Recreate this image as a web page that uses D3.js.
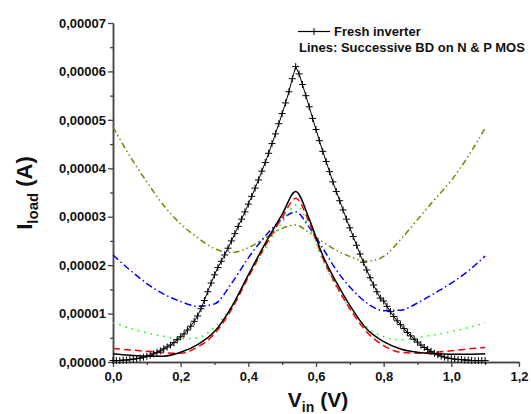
<!DOCTYPE html>
<html><head><meta charset="utf-8">
<script src="https://cdn.jsdelivr.net/npm/d3@7"></script>
<style>
html,body{margin:0;padding:0;background:#fff;}
svg{display:block;font-family:"Liberation Sans",Arial,Helvetica,sans-serif;}
</style></head>
<body><svg id="c" width="531" height="414"></svg>
<script>
// values in units of 1e-5 A
const xTicks = [0, 0.2, 0.4, 0.6, 0.8, 1.0, 1.2];
const xTickLabels = ["0,0", "0,2", "0,4", "0,6", "0,8", "1,0", "1,2"];
const yTicks = [0, 1, 2, 3, 4, 5, 6, 7];
const yTickLabels = ["0,00000", "0,00001", "0,00002", "0,00003", "0,00004", "0,00005", "0,00006", "0,00007"];

// Fresh inverter, Vin from 0.00 to 1.10 step 0.01
const freshVin = [0.00,0.01,0.02,0.03,0.04,0.05,0.06,0.07,0.08,0.09,0.10,0.11,0.12,0.13,0.14,0.15,0.16,0.17,0.18,0.19,
0.20,0.21,0.22,0.23,0.24,0.25,0.26,0.27,0.28,0.29,0.30,0.31,0.32,0.33,0.34,0.35,0.36,0.37,0.38,0.39,
0.40,0.41,0.42,0.43,0.44,0.45,0.46,0.47,0.48,0.49,0.50,0.51,0.52,0.53,0.54,0.55,0.56,0.57,0.58,0.59,
0.60,0.61,0.62,0.63,0.64,0.65,0.66,0.67,0.68,0.69,0.70,0.71,0.72,0.73,0.74,0.75,0.76,0.77,0.78,0.79,
0.80,0.81,0.82,0.83,0.84,0.85,0.86,0.87,0.88,0.89,0.90,0.91,0.92,0.93,0.94,0.95,0.96,0.97,0.98,0.99,
1.00,1.01,1.02,1.03,1.04,1.05,1.06,1.07,1.08,1.09,1.10];
const freshI = [0.03,0.03,0.03,0.04,0.04,0.05,0.06,0.07,0.08,0.10,0.12,0.14,0.17,0.20,0.23,0.27,0.31,0.35,0.40,0.46,
0.52,0.58,0.66,0.74,0.84,0.95,1.10,1.27,1.45,1.63,1.80,1.95,2.08,2.21,2.35,2.50,2.65,2.80,2.95,3.10,
3.26,3.42,3.59,3.76,3.94,4.12,4.31,4.51,4.71,4.92,5.13,5.35,5.58,5.85,6.10,5.95,5.73,5.50,5.27,5.03,
4.80,4.57,4.35,4.14,3.93,3.72,3.52,3.33,3.14,2.95,2.77,2.59,2.41,2.23,2.06,1.90,1.74,1.59,1.45,1.32,
1.26,1.15,1.04,0.94,0.85,0.77,0.69,0.61,0.54,0.47,0.41,0.35,0.30,0.26,0.22,0.18,0.15,0.12,0.10,0.08,
0.07,0.06,0.05,0.05,0.04,0.04,0.03,0.03,0.03,0.03,0.03];

// Successive breakdown curves
const bdVin = [0,0.05,0.10,0.15,0.20,0.25,0.30,0.35,0.40,0.45,0.50,0.54,0.58,0.62,0.66,0.70,0.75,0.80,0.85,0.90,0.95,1.00,1.05,1.10];
const bdBlack = [0.17,0.14,0.12,0.12,0.20,0.36,0.63,1.13,1.80,2.45,3.05,3.52,2.95,2.20,1.65,1.17,0.68,0.42,0.27,0.20,0.17,0.16,0.16,0.17];
const bdRed   = [0.28,0.25,0.22,0.19,0.18,0.31,0.58,1.08,1.75,2.40,2.98,3.38,2.88,2.15,1.58,1.10,0.62,0.34,0.20,0.18,0.20,0.23,0.27,0.30];
const bdGreen = [0.81,0.70,0.60,0.53,0.48,0.50,0.72,1.15,1.75,2.35,2.88,3.24,2.80,2.10,1.55,1.10,0.72,0.52,0.46,0.50,0.56,0.63,0.71,0.81];
const bdBlue  = [2.21,1.90,1.62,1.40,1.25,1.15,1.20,1.62,2.15,2.60,2.95,3.10,2.78,2.35,1.90,1.55,1.22,1.06,1.07,1.22,1.42,1.63,1.88,2.19];
const bdOlive = [4.85,4.25,3.72,3.23,2.85,2.57,2.34,2.26,2.36,2.56,2.76,2.83,2.67,2.48,2.31,2.18,2.08,2.18,2.53,2.94,3.35,3.75,4.25,4.83];

const legendFresh = "Fresh inverter";
const legendLines = "Lines: Successive BD on N & P MOS";

const svg = d3.select("#c");
const x = d3.scaleLinear().domain([0, 1.2]).range([113, 519]);
const y = d3.scaleLinear().domain([0, 7]).range([362, 23]);

// axes
const axisColor = "#444";
const gx = svg.append("g").attr("transform", "translate(0,362)")
  .call(d3.axisBottom(x).tickValues(xTicks).tickSize(5).tickSizeOuter(0)
    .tickFormat((d, i) => xTickLabels[i]));
const gxm = svg.append("g").attr("transform", "translate(0,362)")
  .call(d3.axisBottom(x).tickValues([0.1,0.3,0.5,0.7,0.9,1.1]).tickSize(3).tickSizeOuter(0).tickFormat(""));
const gy = svg.append("g").attr("transform", "translate(113,0)")
  .call(d3.axisLeft(y).tickValues(yTicks).tickSize(5).tickSizeOuter(0)
    .tickFormat((d, i) => yTickLabels[i]));
const gym = svg.append("g").attr("transform", "translate(113,0)")
  .call(d3.axisLeft(y).tickValues([0.5,1.5,2.5,3.5,4.5,5.5,6.5]).tickSize(3).tickSizeOuter(0).tickFormat(""));
[gx, gxm, gy, gym].forEach(g => {
  g.select(".domain").attr("stroke", axisColor).attr("stroke-width", 1.5);
  g.selectAll(".tick line").attr("stroke", axisColor).attr("stroke-width", 1.3);
  g.selectAll("text").attr("font-family", "'Liberation Sans',Arial,sans-serif")
    .attr("font-weight", "bold").attr("font-size", 13).attr("fill", "#111");
});
gx.selectAll("text").attr("dy", "1.05em").attr("y", 5);
gy.selectAll("text").attr("x", -7);

// lines
const line = d3.line().x(d => x(d[0])).y(d => y(d[1])).curve(d3.curveMonotoneX);
const series = [
  {v: bdOlive, color: "#808000", dash: "6,3,1.5,3,1.5,3"},
  {v: bdBlue, color: "#0000ff", dash: "7,3,1.5,3"},
  {v: bdGreen, color: "#00ff00", dash: "1.5,5"},
  {v: bdRed, color: "#ff0000", dash: "7,4"},
  {v: bdBlack, color: "#000000", dash: null}
];
series.forEach(s => {
  svg.append("path").datum(bdVin.map((vx, i) => [vx, s.v[i]]))
    .attr("d", line).attr("fill", "none").attr("stroke", s.color)
    .attr("stroke-width", 1.5).attr("stroke-dasharray", s.dash);
});

// fresh inverter
const freshData = freshVin.map((vx, i) => [vx, freshI[i]]);
svg.append("path").datum(freshData)
  .attr("d", d3.line().x(d => x(d[0])).y(d => y(d[1])))
  .attr("fill", "none").attr("stroke", "#000").attr("stroke-width", 1);
svg.append("g").selectAll("path").data(freshData).join("path")
  .attr("d", d => `M${x(d[0]) - 3.5},${y(d[1])}h7M${x(d[0])},${y(d[1]) - 3.5}v7`)
  .attr("stroke", "#000").attr("stroke-width", 1).attr("fill", "none");

// legend
const lg = svg.append("g");
lg.append("line").attr("x1", 298).attr("x2", 330).attr("y1", 31.5).attr("y2", 31.5)
  .attr("stroke", "#000").attr("stroke-width", 1.2);
lg.append("path").attr("d", "M310.5,31.5h7M314,28v7").attr("stroke", "#000").attr("stroke-width", 1);
lg.append("text").attr("x", 334).attr("y", 36).attr("font-weight", "bold").attr("font-size", 13)
  .attr("fill", "#111").text(legendFresh);
lg.append("text").attr("x", 299).attr("y", 52).attr("font-weight", "bold").attr("font-size", 13)
  .attr("fill", "#111").text(legendLines);

// axis titles
const xt = svg.append("text").attr("x", 318).attr("y", 407).attr("text-anchor", "middle")
  .attr("font-weight", "bold").attr("font-size", 21).attr("fill", "#111");
xt.append("tspan").text("V");
xt.append("tspan").attr("font-size", 14).attr("dy", 5).text("in");
xt.append("tspan").attr("dy", -5).text(" (V)");

const yt = svg.append("text").attr("transform", "translate(32,193) rotate(-90)").attr("text-anchor", "middle")
  .attr("font-weight", "bold").attr("font-size", 22).attr("fill", "#111");
yt.append("tspan").text("I");
yt.append("tspan").attr("font-size", 15).attr("dy", 6).text("load");
yt.append("tspan").attr("dy", -6).text(" (A)");
</script></body></html>
